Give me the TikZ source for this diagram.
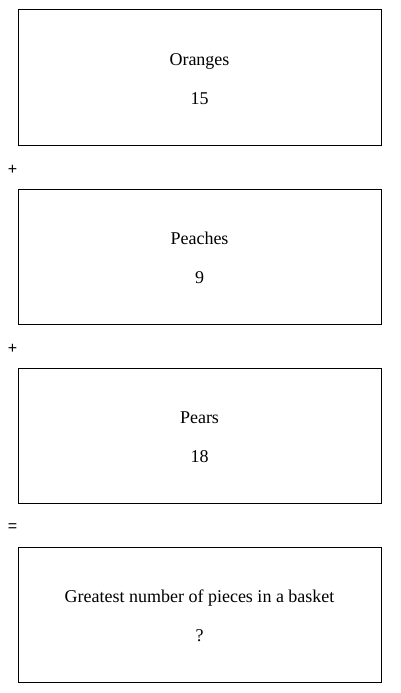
\documentclass[tikz,border=0pt]{standalone}
\usepackage{fontspec}
\setmainfont{Liberation Serif}
\newfontfamily\opfont{Liberation Sans}
\begin{document}
\begin{tikzpicture}[x=1pt,y=-1pt,
  boxst/.style={draw=black, line width=1pt, minimum width=363pt, minimum height=135pt, inner sep=0pt},
  lbl/.style={font=\fontsize{18}{21}\selectfont, inner sep=0pt, anchor=base},
  opst/.style={font=\opfont\fontsize{16}{18}\selectfont, inner sep=0pt}]
\useasboundingbox (0,0) rectangle (400,693);
\foreach \i/\cy/\a/\b in {1/77.5/Oranges/15, 2/256.5/Peaches/9, 3/435.5/Pears/18, 4/614.5/Greatest number of pieces in a basket/?} {
  \node[boxst] (box\i) at (199.5,\cy) {};
  \node[lbl] (lbl\i) at ([yshift=11.8pt]box\i.center) {\a};
  \node[lbl] (num\i) at ([yshift=-26.8pt]box\i.center) {\b};
}
\node[opst] (op1) at (12.5,170) {+};
\node[opst] (op2) at (12.5,349) {+};
\node[opst] (op3) at (12.5,528) {=};
\end{tikzpicture}
\end{document}
